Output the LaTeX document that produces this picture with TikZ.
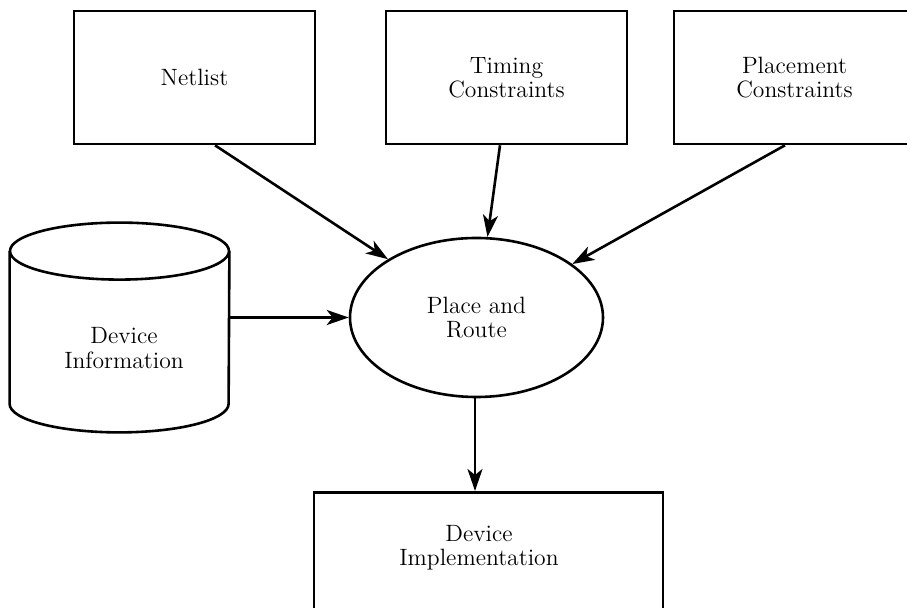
\documentclass[tikz,border=0pt]{standalone}
\usepackage{tikz}
\usetikzlibrary{shapes.geometric, arrows.meta, positioning, calc}

\begin{document}
\begin{tikzpicture}[
  x=0.5pt, y=-0.5pt,
  txt/.style={align=center, font=\fontsize{11.8}{12.2}\selectfont},
  box/.style={txt, rectangle, draw, line width=1.3pt, minimum width=120.5pt, minimum height=66.5pt},
  procnode/.style={txt, ellipse, draw, line width=1.3pt, minimum width=126.5pt, minimum height=79.5pt},
  arr/.style={-{Stealth[length=11pt, width=7.5pt, inset=3pt]}, line width=1.3pt},
]
  \useasboundingbox (0,0) rectangle (907,608);

  % Inputs
  \node[box] (net) at (194.5,77.5) {Netlist};
  \node[box] (tim) at (506.5,77.5) {Timing\\Constraints};
  \node[box] (plc) at (794.5,77.5) {Placement\\Constraints};

  % Tool
  \node[procnode] (route) at (476.5,317.5) {Place and\\Route};

  % Database
  \node[minimum width=109.5pt, minimum height=104.5pt, inner sep=0pt] (store) at (119.5,327.5) {};
  \draw[line width=1.3pt] ([yshift=-14.25pt]store.north) ellipse [x radius=54.75pt, y radius=14.25pt];
  \draw[line width=1.3pt] ([yshift=-14.25pt]store.north west) -- ([yshift=14.25pt]store.south west)
    arc[start angle=180, end angle=360, x radius=54.75pt, y radius=14.25pt]
    -- ([yshift=-14.25pt]store.north east);
  \node[txt] (devinfo) at (124,348) {Device\\Information};

  % Output
  \node[box, minimum width=174.5pt, minimum height=75pt, anchor=north] (impl) at (488.5,491) {};
  \node[txt] (impltext) at (479,548) {Device\\Implementation};

  % Arrows
  \draw[arr] ([xshift=10.25pt]net.south) -- (route);
  \draw[arr] ([xshift=-3.25pt]tim.south) -- (route);
  \draw[arr] ([xshift=-4.75pt]plc.south) -- (route);
  \draw[arr] (store.east |- route.west) -- (route.west);
  \draw[arr] ([xshift=-0.75pt]route.south) -- ([xshift=-0.75pt]route.south |- impl.north);
\end{tikzpicture}
\end{document}
